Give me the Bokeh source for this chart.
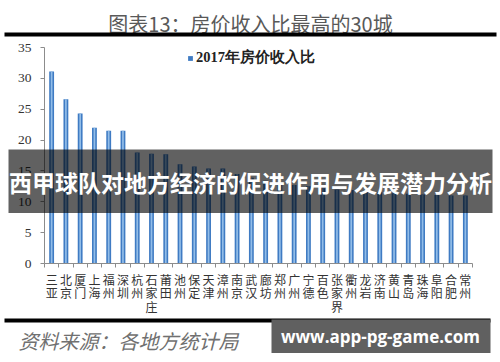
from bokeh.plotting import figure
from bokeh.models import (Range1d, FixedTicker, BoxAnnotation, Label, Legend, LegendItem,
                          ColumnDataSource)
from bokeh.embed import file_html
from bokeh.resources import INLINE

# ---- data ----
cities = ["三亚", "北京", "厦门", "上海", "福州", "深圳", "杭州", "石家庄", "莆田", "池州",
          "保定", "天津", "漳州", "南京", "武汉", "廊坊", "郑州", "广州", "宁德", "百色",
          "张家界", "衢州", "龙岩", "济南", "黄山", "青岛", "珠海", "阜阳", "合肥", "常州"]
values = [31.1, 26.6, 24.3, 22.0, 21.5, 21.5, 18.0, 17.8, 17.7, 16.1,
          15.7, 15.4, 15.4, 14.5, 13.9, 13.4, 13.0, 12.7, 12.5, 12.2,
          12.0, 11.9, 11.7, 11.6, 11.4, 11.3, 11.2, 11.1, 11.0, 11.0]
y_ticks = [0, 5, 10, 15, 20, 25, 30, 35]
y_max = 35
series_name = "2017年房价收入比"
title_text = "图表13：房价收入比最高的30城"
source_text = "资料来源：各地方统计局"
banner_text = "西甲球队对地方经济的促进作用与发展潜力分析"
watermark_text = "www.app-pg-game.com"

W, H = 500, 362
CJK = "Noto Sans CJK SC"

# plot-area placement on the canvas (pixels)
PL, PR, PT, PB = 44, 472, 47, 263
n = len(cities)
xs = n / (PR - PL)            # data units per pixel (x)
ys = y_max / (PB - PT)        # data units per pixel (y)

def dx(px):
    return (px - PL) * xs

def dy(py):
    return (PB - py) * ys

centres = [i + 0.5 for i in range(n)]

p = figure(width=W, height=H, x_range=Range1d(dx(0), dx(W)), y_range=Range1d(dy(H), dy(0)),
           output_backend="svg", toolbar_location=None,
           min_border=0, min_border_left=0, min_border_right=0,
           min_border_top=0, min_border_bottom=0)
p.outline_line_color = None
p.grid.grid_line_color = None
p.background_fill_color = "white"
p.border_fill_color = "white"

src = ColumnDataSource(dict(x=centres, city=cities, value=values))
outer = p.vbar(x="x", top="value", width=0.34, source=src,
               fill_color="#3f7bc3", line_color=None)
p.vbar(x="x", top="value", width=0.12, source=src,
       fill_color="#92bde8", line_color=None)

# y axis
ya = p.yaxis[0]
ya.fixed_location = 0
ya.bounds = (0, y_max)
ya.ticker = FixedTicker(ticks=y_ticks)
ya.major_tick_out = 4
ya.major_tick_in = 0
ya.minor_tick_out = 0
ya.minor_tick_in = 0
ya.axis_line_color = "#8c8c8c"
ya.major_tick_line_color = "#8c8c8c"
ya.major_label_text_font = "Liberation Serif"
ya.major_label_text_font_size = "13.5px"
ya.major_label_text_color = "#333333"
ya.major_label_standoff = 9

# x axis: labels at category centres, ticks at boundaries
xa = p.xaxis[0]
xa.fixed_location = 0
xa.bounds = (0, n)
xa.ticker = FixedTicker(ticks=centres, minor_ticks=list(range(n + 1)))
xa.major_label_overrides = {c: "\n".join(name) for c, name in zip(centres, cities)}
xa.major_tick_out = 0
xa.major_tick_in = 0
xa.minor_tick_out = 4
xa.minor_tick_in = 0
xa.axis_line_color = "#8c8c8c"
xa.minor_tick_line_color = "#8c8c8c"
xa.major_label_text_font = CJK
xa.major_label_text_font_size = "12px"
xa.major_label_text_color = "#333333"
xa.major_label_text_line_height = 0.8
xa.major_label_standoff = 3

# legend
legend = Legend(items=[LegendItem(label=series_name, renderers=[outer])],
                location=(187, 295), orientation="horizontal",
                glyph_width=6, glyph_height=6, label_standoff=3,
                padding=0, margin=0, spacing=0, label_height=12,
                border_line_color=None, background_fill_alpha=0,
                label_text_font="Liberation Serif", label_text_font_style="bold",
                label_text_font_size="14.5px", label_text_color="#222222")
p.add_layout(legend)

def box(l, r, t, b, color, alpha=1.0):
    return BoxAnnotation(left=dx(l), right=dx(r), top=dy(t), bottom=dy(b),
                         fill_color=color, fill_alpha=alpha, line_color=None)

def lab(x, y, text, size, color, font=CJK, style="normal", align="center"):
    return Label(x=dx(x), y=dy(y), text=text,
                 text_align=align, text_baseline="middle", text_font=font,
                 text_font_size=size, text_color=color, text_font_style=style)

p.add_layout(lab(250, 23, title_text, "20px", "#595959"))
p.add_layout(box(4, 496, 32, 36, "black"))
p.add_layout(box(8, 492, 149, 212.5, "black", 0.62))
p.add_layout(lab(250, 181, banner_text, "23px", "white", style="bold"))
p.add_layout(box(4, 490, 318, 322, "black"))
p.add_layout(lab(18, 340, source_text, "20px", "#707070", style="italic", align="left"))
p.add_layout(box(271, 490, 319, 352.5, "#606060"))
p.add_layout(lab(380, 336, watermark_text, "17px", "white", font="Open Sans", style="bold"))

open("out.html", "w").write(file_html(p, INLINE))
